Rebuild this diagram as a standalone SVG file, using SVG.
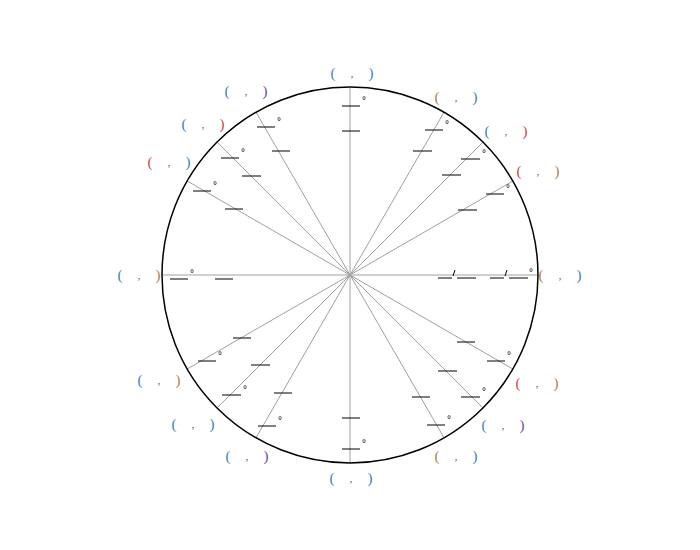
<svg xmlns="http://www.w3.org/2000/svg" width="700" height="550" viewBox="0 0 700 550">
<style>
.ray{stroke:#a0a0a0;stroke-width:1}
.b{stroke:#000;stroke-width:1}
.p{font-family:"Liberation Serif",serif;font-size:15px;text-anchor:middle}
.c{font-family:"Liberation Serif",serif;font-size:10px;text-anchor:middle;fill:#444}
.d{font-family:"Liberation Sans",sans-serif;font-size:10px;fill:#000}
.bl{fill:#3a80c4}.br{fill:#b0804a}.rd{fill:#c84848}.pu{fill:#7048a8}
</style>
<rect width="700" height="550" fill="#fff"/>
<g id="connectors">
<line class="ray" x1="162" y1="275" x2="538" y2="275"/>
<line class="ray" x1="350" y1="87" x2="350" y2="463"/>
<line class="ray" x1="187.2" y1="181" x2="512.8" y2="369"/>
<line class="ray" x1="187.2" y1="369" x2="512.8" y2="181"/>
<line class="ray" x1="217.1" y1="142.1" x2="482.9" y2="407.9"/>
<line class="ray" x1="217.1" y1="407.9" x2="482.9" y2="142.1"/>
<line class="ray" x1="256" y1="112.2" x2="444" y2="437.8"/>
<line class="ray" x1="256" y1="437.8" x2="444" y2="112.2"/>
</g>
<g id="circle"><circle cx="350" cy="275" r="188" fill="none" stroke="#000" stroke-width="1.5"/></g>
<g id="a0"><line class="b" x1="438" y1="278" x2="452" y2="278"/><line class="b" x1="457" y1="278" x2="476" y2="278"/><line class="b" x1="490" y1="278" x2="504" y2="278"/><line class="b" x1="509" y1="278" x2="528" y2="278"/><line x1="453" y1="276" x2="455" y2="270" stroke="#000"/><line x1="505" y1="276" x2="507" y2="270" stroke="#000"/><text class="d" x="529" y="276">°</text><text class="p br" x="541" y="280">(</text><text class="c" x="560" y="279">,</text><text class="p bl" x="579" y="280">)</text></g>
<g id="a30"><line class="b" x1="486" y1="194" x2="504" y2="194"/><line class="b" x1="458" y1="210" x2="477" y2="210"/><text class="d" x="506" y="192">°</text><text class="p rd" x="519" y="176">(</text><text class="c" x="538" y="175">,</text><text class="p br" x="557" y="176">)</text></g>
<g id="a45"><line class="b" x1="461" y1="159" x2="480" y2="159"/><line class="b" x1="442" y1="175" x2="461" y2="175"/><text class="d" x="482" y="157">°</text><text class="p bl" x="487" y="136">(</text><text class="c" x="506" y="135">,</text><text class="p rd" x="525" y="136">)</text></g>
<g id="a60"><line class="b" x1="425" y1="130" x2="443" y2="130"/><line class="b" x1="413" y1="151" x2="432" y2="151"/><text class="d" x="445" y="128">°</text><text class="p br" x="437" y="102">(</text><text class="c" x="456" y="101">,</text><text class="p bl" x="475" y="102">)</text></g>
<g id="a90"><line class="b" x1="342" y1="106" x2="360" y2="106"/><line class="b" x1="342" y1="131" x2="360" y2="131"/><text class="d" x="362" y="104">°</text><text class="p bl" x="333" y="78">(</text><text class="c" x="352" y="77">,</text><text class="p bl" x="371" y="78">)</text></g>
<g id="a120"><line class="b" x1="257" y1="127" x2="275" y2="127"/><line class="b" x1="272" y1="151" x2="290" y2="151"/><text class="d" x="277" y="125">°</text><text class="p bl" x="227" y="96">(</text><text class="c" x="246" y="95">,</text><text class="p pu" x="265" y="96">)</text></g>
<g id="a135"><line class="b" x1="221" y1="158" x2="239" y2="158"/><line class="b" x1="242" y1="176" x2="261" y2="176"/><text class="d" x="241" y="156">°</text><text class="p bl" x="184" y="129">(</text><text class="c" x="203" y="128">,</text><text class="p rd" x="222" y="129">)</text></g>
<g id="a150"><line class="b" x1="193" y1="191" x2="211" y2="191"/><line class="b" x1="225" y1="209" x2="243" y2="209"/><text class="d" x="213" y="189">°</text><text class="p rd" x="150" y="167">(</text><text class="c" x="169" y="166">,</text><text class="p bl" x="188" y="167">)</text></g>
<g id="a180"><line class="b" x1="170" y1="279" x2="188" y2="279"/><line class="b" x1="215" y1="279" x2="233" y2="279"/><text class="d" x="190" y="277">°</text><text class="p bl" x="120" y="280">(</text><text class="c" x="139" y="279">,</text><text class="p br" x="158" y="280">)</text></g>
<g id="a210"><line class="b" x1="198" y1="361" x2="216" y2="361"/><line class="b" x1="233" y1="338" x2="251" y2="338"/><text class="d" x="218" y="359">°</text><text class="p bl" x="140" y="385">(</text><text class="c" x="159" y="384">,</text><text class="p br" x="178" y="385">)</text></g>
<g id="a225"><line class="b" x1="222" y1="395" x2="241" y2="395"/><line class="b" x1="251" y1="365" x2="270" y2="365"/><text class="d" x="243" y="393">°</text><text class="p bl" x="174" y="429">(</text><text class="c" x="193" y="428">,</text><text class="p bl" x="212" y="429">)</text></g>
<g id="a240"><line class="b" x1="258" y1="426" x2="276" y2="426"/><line class="b" x1="274" y1="393" x2="292" y2="393"/><text class="d" x="278" y="424">°</text><text class="p bl" x="228" y="461">(</text><text class="c" x="247" y="460">,</text><text class="p pu" x="266" y="461">)</text></g>
<g id="a270"><line class="b" x1="342" y1="449" x2="360" y2="449"/><line class="b" x1="342" y1="418" x2="360" y2="418"/><text class="d" x="362" y="447">°</text><text class="p bl" x="332" y="483">(</text><text class="c" x="351" y="482">,</text><text class="p bl" x="370" y="483">)</text></g>
<g id="a300"><line class="b" x1="427" y1="425" x2="445" y2="425"/><line class="b" x1="412" y1="397" x2="430" y2="397"/><text class="d" x="447" y="423">°</text><text class="p br" x="437" y="461">(</text><text class="c" x="456" y="460">,</text><text class="p bl" x="475" y="461">)</text></g>
<g id="a315"><line class="b" x1="461" y1="397" x2="480" y2="397"/><line class="b" x1="438" y1="371" x2="457" y2="371"/><text class="d" x="482" y="395">°</text><text class="p bl" x="484" y="430">(</text><text class="c" x="503" y="429">,</text><text class="p pu" x="522" y="430">)</text></g>
<g id="a330"><line class="b" x1="487" y1="361" x2="505" y2="361"/><line class="b" x1="457" y1="342" x2="475" y2="342"/><text class="d" x="507" y="359">°</text><text class="p rd" x="518" y="388">(</text><text class="c" x="537" y="387">,</text><text class="p br" x="556" y="388">)</text></g>
</svg>
